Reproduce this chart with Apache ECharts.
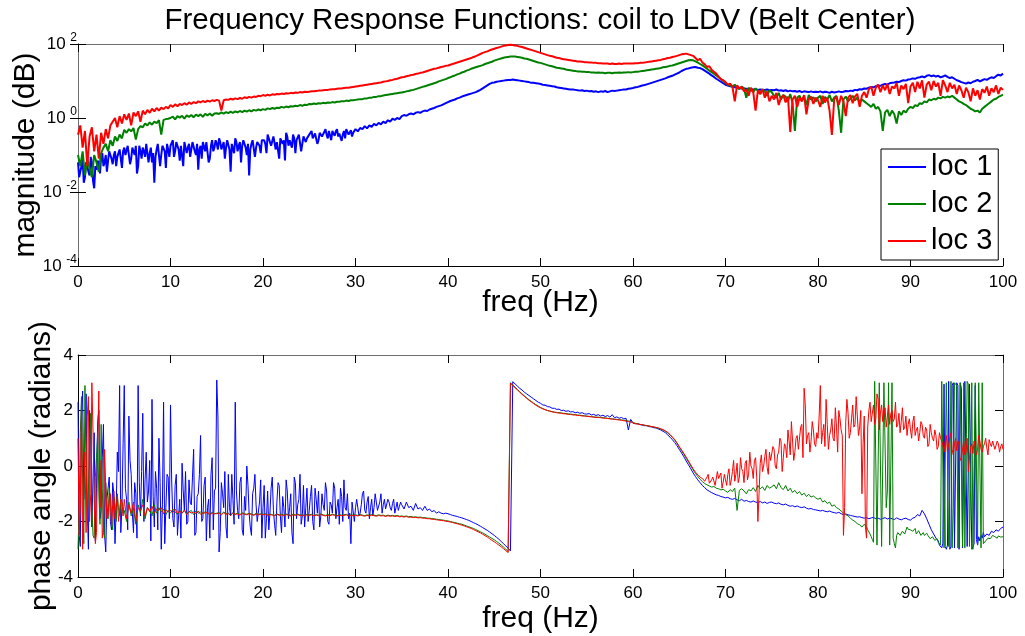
<!DOCTYPE html>
<html>
<head>
<meta charset="utf-8">
<title>Frequency Response Functions</title>
<script src="https://cdn.jsdelivr.net/npm/echarts@6/dist/echarts.min.js"></script>
<style>
  html, body { margin: 0; padding: 0; background: #fff; }
  #chart { width: 1025px; height: 636px; }
</style>
</head>
<body>
<div id="chart"></div>
<script>
// Frequency grid: 0 to 100 Hz in 0.25 Hz steps (401 samples)
const freq = [];
for (let i = 0; i <= 400; i++) freq.push(i * 0.25);

const seriesNames = ['loc 1', 'loc 2', 'loc 3'];
const seriesColors = ['#0000ff', '#008000', '#ff0000'];

// Magnitude, stored as log10 of the response (one row = 5 Hz)
const magLoc1 = [
  -1.2,-1.45,-1.1,-1.6,-1.3,-1.55,-1.2,-1.9,-1.4,-1.25,-1.05,-1.3,-1.0,-1.15,-0.95,-1.25,-0.9,-1.05,-0.85,-1.35,
  -0.8,-0.95,-0.7,-1.1,-0.85,-0.75,-1.3,-0.9,-0.8,-1.05,-0.7,-0.95,-1.2,-1.75,-0.85,-0.75,-1.0,-0.8,-1.35,-0.85,
  -0.75,-0.6,-0.9,-0.7,-1.15,-0.8,-0.65,-0.95,-0.7,-0.85,-0.6,-1.0,-1.4,-0.75,-0.65,-0.9,-0.7,-1.1,-0.6,-0.8,
  -0.7,-0.55,-0.85,-0.65,-0.8,-0.6,-1.45,-0.7,-0.55,-0.9,-0.65,-0.75,-0.6,-1.0,-1.55,-0.7,-0.55,-0.8,-0.6,-0.95,
  -0.55,-0.7,-0.45,-0.6,-0.8,-0.5,-0.65,-1.1,-0.5,-0.6,-0.4,-0.75,-0.55,-0.45,-0.95,-0.6,-0.5,-0.7,-0.45,-0.55,
  -0.45,-0.35,-0.5,-0.4,-0.6,-0.38,-0.45,-0.3,-0.55,-0.4,-0.35,-0.48,-0.3,-0.42,-0.62,-0.35,-0.3,-0.45,-0.33,-0.4,
  -0.3,-0.36,-0.27,-0.3,-0.22,-0.28,-0.2,-0.24,-0.16,-0.2,-0.13,-0.17,-0.1,-0.14,-0.06,-0.1,-0.02,-0.05,0.0,-0.03,
  0.05,0.08,0.06,0.1,0.12,0.1,0.14,0.16,0.14,0.18,0.2,0.19,0.23,0.25,0.27,0.3,0.32,0.34,0.37,0.4,
  0.43,0.46,0.48,0.5,0.53,0.55,0.58,0.6,0.62,0.64,0.66,0.68,0.7,0.73,0.76,0.8,0.84,0.88,0.92,0.95,
  0.96,0.98,0.99,1.0,1.01,1.02,1.03,1.03,1.04,1.03,1.02,1.01,1.0,0.99,0.98,0.97,0.95,0.95,0.94,0.93,
  0.92,0.9,0.89,0.88,0.87,0.86,0.85,0.83,0.82,0.81,0.8,0.79,0.78,0.77,0.77,0.76,0.75,0.74,0.75,0.73,
  0.74,0.72,0.73,0.71,0.72,0.7,0.72,0.71,0.73,0.7,0.72,0.74,0.73,0.74,0.75,0.76,0.77,0.77,0.79,0.8,
  0.81,0.83,0.84,0.86,0.88,0.89,0.91,0.93,0.95,0.97,0.99,1.01,1.03,1.05,1.07,1.1,1.12,1.14,1.17,1.2,
  1.23,1.27,1.3,1.33,1.34,1.36,1.37,1.38,1.36,1.35,1.32,1.28,1.24,1.2,1.15,1.11,1.06,1.02,0.98,0.94,
  0.9,0.88,0.86,0.85,0.83,0.82,0.81,0.8,0.8,0.79,0.78,0.78,0.77,0.78,0.76,0.77,0.76,0.76,0.77,0.75,
  0.76,0.75,0.77,0.74,0.75,0.73,0.75,0.72,0.74,0.72,0.73,0.71,0.73,0.7,0.72,0.71,0.7,0.72,0.7,0.71,
  0.7,0.72,0.69,0.71,0.7,0.68,0.71,0.69,0.7,0.72,0.7,0.71,0.73,0.72,0.74,0.73,0.76,0.75,0.78,0.77,
  0.8,0.79,0.82,0.84,0.83,0.86,0.88,0.87,0.9,0.92,0.9,0.94,0.95,0.96,0.98,0.97,1.0,1.02,1.01,1.04,
  1.05,1.07,1.06,1.09,1.1,1.12,1.1,1.14,1.16,1.13,1.15,1.12,1.14,1.1,1.12,1.15,1.11,1.08,1.1,1.06,
  1.02,1.0,0.97,0.95,0.93,0.96,0.94,0.98,1.0,1.03,0.99,1.02,1.05,1.03,1.07,1.1,1.08,1.13,1.17,1.15,
  1.2
];
// Extra loc 1 magnitude readings between grid points, 0.125 to 29.875 Hz
const magLoc1MidStart = 0.125;
const magLoc1Mid = [
  -1.6,-1.3,-1.75,-1.2,-1.45,-1.05,-1.7,-1.3,-1.15,-1.5,-0.95,-1.2,-1.45,-0.9,-1.1,-1.0,-1.3,-0.95,-1.1,-0.9,
  -1.0,-0.75,-1.25,-0.8,-1.0,-1.5,-0.75,-1.1,-0.9,-0.7,-1.2,-0.8,-0.95,-1.05,-0.7,-1.3,-0.75,-0.9,-0.7,-1.05,
  -0.7,-1.05,-0.65,-0.85,-0.75,-1.3,-0.7,-0.8,-1.05,-0.65,-0.9,-0.7,-0.85,-1.1,-0.7,-0.65,-1.2,-0.75,-0.9,-0.6,
  -0.85,-0.65,-0.75,-1.1,-0.6,-0.85,-0.7,-0.95,-0.65,-0.75,-1.2,-0.6,-0.8,-0.7,-0.85,-0.6,-1.05,-0.65,-0.75,-0.6,
  -0.6,-0.95,-0.55,-0.75,-0.5,-0.85,-0.6,-0.55,-0.7,-1.15,-0.5,-0.6,-0.8,-0.55,-0.6,-0.45,-0.9,-0.5,-0.65,-0.5,
  -0.4,-0.55,-0.42,-0.7,-0.4,-0.5,-0.38,-0.45,-0.35,-0.6,-0.42,-0.36,-0.5,-0.38,-0.45,-0.55,-0.35,-0.4,-0.5,-0.35
];

const magLoc2 = [
  -1.0,-1.3,-0.9,-1.55,-1.1,-1.35,-1.6,-1.0,-1.2,-1.45,-0.95,-0.8,-0.7,-0.9,-0.6,-0.75,-0.5,-0.62,-0.45,-0.55,
  -0.32,-0.4,-0.3,-0.36,-0.27,-0.58,-0.3,-0.22,-0.25,-0.15,-0.2,-0.12,-0.18,-0.1,-0.14,-0.06,-0.45,-0.05,-0.03,-0.02,
  0.0,0.04,-0.04,0.05,0.01,0.06,-0.02,0.07,0.03,0.08,0.02,0.09,0.05,0.1,0.03,0.11,0.07,0.12,0.06,0.12,
  0.13,0.11,0.15,0.12,0.16,0.13,0.17,0.14,0.18,0.15,0.19,0.16,0.2,0.17,0.21,0.18,0.22,0.2,0.23,0.21,
  0.24,0.22,0.26,0.24,0.27,0.25,0.28,0.27,0.3,0.28,0.31,0.29,0.32,0.31,0.33,0.32,0.35,0.33,0.36,0.35,
  0.38,0.37,0.39,0.38,0.4,0.39,0.41,0.4,0.42,0.41,0.43,0.42,0.44,0.44,0.45,0.45,0.47,0.46,0.48,0.48,
  0.49,0.5,0.51,0.51,0.53,0.53,0.55,0.55,0.57,0.57,0.59,0.59,0.61,0.62,0.63,0.64,0.65,0.66,0.67,0.68,
  0.69,0.7,0.72,0.73,0.75,0.76,0.78,0.8,0.82,0.84,0.86,0.88,0.9,0.92,0.94,0.96,0.99,1.01,1.03,1.05,
  1.08,1.1,1.13,1.15,1.18,1.2,1.23,1.25,1.28,1.3,1.33,1.35,1.37,1.39,1.41,1.43,1.46,1.48,1.5,1.52,
  1.55,1.57,1.59,1.61,1.63,1.64,1.65,1.66,1.66,1.66,1.65,1.64,1.63,1.61,1.6,1.58,1.56,1.54,1.52,1.5,
  1.49,1.47,1.45,1.43,1.41,1.4,1.38,1.36,1.35,1.34,1.33,1.31,1.3,1.29,1.28,1.27,1.26,1.26,1.25,1.25,
  1.24,1.24,1.23,1.23,1.22,1.23,1.22,1.22,1.21,1.22,1.22,1.21,1.22,1.22,1.23,1.22,1.23,1.23,1.24,1.23,
  1.24,1.25,1.25,1.26,1.27,1.28,1.29,1.3,1.31,1.32,1.33,1.34,1.35,1.37,1.38,1.39,1.41,1.42,1.44,1.46,
  1.48,1.5,1.52,1.54,1.56,1.57,1.56,1.53,1.5,1.46,1.42,1.38,1.33,1.28,1.24,1.2,1.15,1.1,1.05,1.0,
  0.95,0.9,0.88,0.84,0.9,0.82,0.78,0.85,0.8,0.55,0.82,0.76,0.7,0.8,0.74,0.65,0.78,0.72,0.6,0.75,
  0.7,0.6,0.55,0.68,0.5,0.62,0.58,0.45,0.65,0.4,-0.35,0.55,0.6,0.48,0.58,0.35,0.62,0.5,0.56,0.45,
  0.55,0.6,0.38,0.57,0.5,0.62,0.45,0.55,0.6,0.2,-0.4,0.5,0.58,0.45,0.52,0.6,0.48,0.55,0.42,0.5,
  0.45,0.4,0.35,0.3,0.38,0.25,0.3,0.18,-0.35,0.15,0.22,0.05,0.2,0.1,-0.15,0.18,0.08,0.2,0.15,0.25,
  0.3,0.27,0.35,0.32,0.4,0.38,0.45,0.42,0.5,0.48,0.52,0.5,0.55,0.53,0.57,0.55,0.58,0.56,0.6,0.55,
  0.5,0.45,0.42,0.38,0.35,0.3,0.25,0.22,0.18,0.2,0.15,0.25,0.3,0.35,0.4,0.45,0.5,0.52,0.57,0.6,
  0.63
];

const magLoc3 = [
  -0.45,-0.2,-0.8,-0.35,-1.3,-0.5,-0.25,-0.9,-0.45,-1.1,-0.4,-0.7,-0.3,-0.55,-0.2,-0.1,0.0,-0.25,0.05,-0.15,
  0.1,-0.05,0.12,-0.2,0.15,0.05,0.18,-0.1,0.2,0.1,0.22,0.14,0.25,0.18,0.27,0.2,0.28,0.24,0.3,0.26,
  0.35,0.3,0.37,0.32,0.38,0.35,0.4,0.36,0.42,0.38,0.43,0.4,0.45,0.42,0.46,0.43,0.47,0.44,0.48,0.46,
  0.49,0.47,0.2,0.48,0.5,0.49,0.52,0.5,0.53,0.51,0.54,0.52,0.56,0.54,0.57,0.55,0.58,0.57,0.6,0.59,
  0.62,0.6,0.63,0.61,0.64,0.63,0.65,0.64,0.66,0.65,0.67,0.66,0.68,0.67,0.69,0.68,0.7,0.69,0.71,0.7,
  0.71,0.72,0.72,0.73,0.74,0.74,0.75,0.76,0.76,0.77,0.78,0.78,0.79,0.8,0.8,0.81,0.82,0.82,0.83,0.84,
  0.85,0.86,0.87,0.88,0.89,0.9,0.91,0.92,0.93,0.94,0.95,0.96,0.98,0.99,1.0,1.02,1.03,1.05,1.06,1.08,
  1.1,1.11,1.13,1.14,1.16,1.17,1.19,1.2,1.22,1.23,1.25,1.27,1.29,1.31,1.33,1.34,1.36,1.38,1.39,1.41,
  1.42,1.44,1.46,1.48,1.5,1.52,1.54,1.56,1.58,1.6,1.62,1.65,1.67,1.7,1.73,1.76,1.78,1.8,1.83,1.85,
  1.87,1.89,1.91,1.93,1.95,1.96,1.97,1.98,1.97,1.96,1.95,1.93,1.92,1.9,1.88,1.86,1.84,1.82,1.8,1.78,
  1.76,1.74,1.72,1.7,1.68,1.67,1.65,1.63,1.62,1.6,1.59,1.58,1.57,1.56,1.55,1.54,1.53,1.53,1.52,1.51,
  1.51,1.5,1.5,1.49,1.49,1.48,1.48,1.47,1.47,1.47,1.46,1.47,1.46,1.46,1.47,1.46,1.47,1.47,1.47,1.47,
  1.47,1.48,1.48,1.49,1.49,1.5,1.51,1.52,1.53,1.54,1.55,1.56,1.57,1.59,1.6,1.62,1.63,1.65,1.66,1.68,
  1.7,1.72,1.73,1.74,1.72,1.7,1.68,1.62,1.56,1.6,1.5,1.45,1.38,1.4,1.3,1.25,1.2,1.12,1.05,1.02,
  0.97,0.9,0.93,0.85,0.45,0.88,0.8,0.84,0.72,0.78,0.6,0.82,0.7,0.2,0.75,0.65,0.78,0.55,0.72,0.45,
  0.6,0.5,0.68,0.35,0.55,0.62,0.42,0.58,-0.38,0.5,0.6,0.3,0.55,0.45,0.62,0.1,0.5,0.58,0.38,0.55,
  0.48,0.3,0.6,0.42,0.55,0.2,-0.46,0.5,0.58,0.35,0.6,0.45,0.05,0.55,0.62,0.4,0.58,0.65,0.3,0.6,
  0.7,0.55,0.78,0.85,0.6,0.82,0.9,0.7,0.88,0.75,0.92,0.65,0.85,0.8,0.95,0.6,0.88,0.78,0.92,0.4,
  0.85,0.95,0.7,0.98,0.8,1.02,0.55,0.9,0.98,0.75,1.0,0.85,0.95,0.6,1.02,0.88,0.7,0.95,0.8,0.9,
  0.65,0.88,0.75,0.55,0.82,0.7,0.45,0.8,0.6,0.75,0.5,0.78,0.68,0.85,0.6,0.8,0.7,0.88,0.65,0.82,
  0.76
];

// Phase angle in radians (one row = 5 Hz)
const phaseLoc1 = [
  2.3,-2.9,2.7,0.5,-1.5,2.0,-2.2,1.2,-0.8,2.0,-1.6,1.5,-3.1,-0.8,-2.0,-0.6,-2.8,0.5,2.9,-1.5,
  2.9,-1.2,1.8,-0.3,-2.4,-1.0,2.9,-1.8,1.9,-0.5,-1.3,0.2,2.4,-2.2,-0.8,1.0,-3.0,2.3,-1.5,-0.4,
  2.2,-1.9,-0.7,-2.5,-1.2,0.1,-1.6,-2.1,-0.5,-1.4,0.6,-2.4,-1.0,1.1,-1.9,-0.4,-1.5,-2.6,0.3,-0.9,
  3.1,-3.1,-0.6,-1.5,-2.2,-0.3,-1.8,-1.2,2.3,-1.6,-0.6,-2.3,-1.1,0.0,-1.7,-2.5,-0.8,-1.4,-2.0,-0.5,
  -1.5,-2.6,-0.9,-1.7,-0.4,-2.1,-1.3,-0.7,-2.4,-1.5,-0.5,-1.9,-1.0,-2.8,-0.6,-1.4,-0.3,-1.8,-2.2,-0.8,
  -1.6,-0.7,-2.3,-1.2,-0.9,-1.8,-1.4,-0.6,-2.0,-1.3,-1.7,-0.8,-1.5,-2.1,-1.1,-0.5,-1.6,-1.9,-2.8,-1.3,
  -1.5,-1.2,-1.7,-1.0,-1.6,-1.3,-1.9,-1.2,-1.5,-1.3,-1.6,-1.0,-1.4,-1.55,-1.2,-1.5,-1.35,-1.7,-1.3,-1.45,
  -1.4,-1.55,-1.3,-1.5,-1.45,-1.6,-1.35,-1.55,-1.5,-1.6,-1.45,-1.6,-1.55,-1.65,-1.6,-1.7,-1.65,-1.7,-1.72,-1.7,
  -1.72,-1.75,-1.78,-1.8,-1.82,-1.85,-1.87,-1.9,-1.93,-1.96,-2.0,-2.04,-2.08,-2.12,-2.17,-2.22,-2.27,-2.32,-2.38,-2.44,
  -2.5,-2.57,-2.64,-2.72,-2.8,-2.88,-2.96,-3.06,3.04,2.96,2.88,2.8,2.74,2.66,2.6,2.54,2.48,2.42,2.36,2.3,
  2.26,2.2,2.19,2.14,2.13,2.08,2.08,2.04,2.05,2.0,2.01,1.97,1.99,1.95,1.96,1.92,1.94,1.9,1.92,1.88,
  1.87,1.89,1.84,1.86,1.82,1.85,1.8,1.83,1.78,1.82,1.76,1.85,1.74,1.77,1.72,1.75,1.7,1.72,1.3,1.68,
  1.55,1.52,1.53,1.49,1.48,1.45,1.46,1.42,1.41,1.38,1.37,1.33,1.3,1.25,1.2,1.12,1.04,0.95,0.85,0.73,
  0.6,0.47,0.33,0.18,0.04,-0.1,-0.25,-0.38,-0.5,-0.6,-0.7,-0.78,-0.86,-0.91,-0.96,-1.0,-1.04,-1.06,-1.1,-1.12,
  -1.15,-1.13,-1.18,-1.2,-1.17,-1.22,-1.25,-1.2,-1.27,-1.24,-1.28,-1.3,-1.26,-1.3,-1.32,-1.28,-1.33,-1.3,-1.35,-1.31,
  -1.3,-1.34,-1.36,-1.33,-1.38,-1.4,-1.37,-1.42,-1.45,-1.43,-1.47,-1.44,-1.48,-1.5,-1.47,-1.52,-1.55,-1.53,-1.57,-1.58,
  -1.6,-1.62,-1.6,-1.63,-1.65,-1.62,-1.66,-1.68,-1.7,-1.67,-1.72,-1.75,-1.73,-1.76,-1.78,-1.8,-1.82,-1.84,-1.83,-1.86,
  -1.88,-1.86,-1.9,-1.87,-1.85,-1.9,-1.88,-1.92,-1.89,-1.86,-1.91,-1.88,-1.9,-1.93,-1.87,-1.91,-1.94,-1.9,-1.88,-1.93,
  -1.95,-1.88,-1.85,-1.75,-1.8,-1.6,-1.72,-1.9,-2.1,-2.3,-2.45,-2.6,-2.7,-2.82,-2.78,-2.9,-2.85,-3.0,2.9,-2.95,
  3.0,-3.0,2.8,-2.9,3.05,-2.95,2.95,-3.0,2.9,-2.85,-2.7,-2.6,-2.55,-2.45,-2.5,-2.35,-2.4,-2.3,-2.35,-2.25,
  -2.2
];
// Extra loc 1 phase readings between grid points
const phaseLoc1MidStart = 0.125;   // 0.125 .. 34.875 Hz
const phaseLoc1Mid = [
  -2.5,1.8,-1.2,2.6,-3.0,0.9,-0.4,-2.7,1.6,-1.9,0.3,-2.5,-1.2,-0.4,-2.3,-1.0,-1.6,-0.2,-2.4,0.8,
  -0.8,-2.3,0.2,-1.7,-0.6,-2.6,-0.6,-0.2,-2.0,0.5,-0.9,-2.7,-1.1,-0.2,-2.3,-0.6,-1.4,-2.8,-0.3,-1.9,
  -0.5,-2.2,-0.3,-1.8,-2.6,-0.9,-0.2,-2.0,-1.3,-0.4,-2.5,-1.1,-0.3,-2.0,-0.7,-2.7,-1.2,-0.3,-2.3,-0.8,
  1.8,-2.4,-1.0,-0.2,-2.6,-1.5,-0.3,-2.1,-0.9,-1.9,-0.4,-2.5,-1.6,-0.7,-2.2,-1.0,-0.3,-2.0,-1.3,-2.6,
  -0.7,-1.9,-2.3,-0.8,-1.6,-2.5,-0.6,-1.8,-1.1,-2.2,-0.9,-1.5,-2.4,-0.4,-1.9,-1.2,-2.1,-0.7,-1.5,-2.0,
  -1.1,-2.0,-0.8,-1.7,-2.2,-1.0,-1.6,-0.9,-2.1,-1.4,-0.6,-1.9,-1.2,-0.8,-2.0,-1.5,-1.0,-1.7,-1.3,-2.0,
  -1.2,-1.8,-1.4,-0.9,-1.7,-1.1,-1.5,-1.8,-1.0,-1.6,-1.3,-1.7,-1.2,-1.5,-1.3,-1.6,-1.2,-1.5,-1.6,-1.3
];
const phaseLoc1Mid2Start = 93.125; // 93.125 .. 97.875 Hz
const phaseLoc1Mid2 = [
  -2.85,-2.95,2.95,-3.0,3.05,-2.9,3.0,-2.95,2.9,3.0,-2.95,3.05,-2.9,2.95,-3.0,-2.8,-2.65,-2.55,-2.5,-2.4
];

const phaseLoc2 = [
  -3.0,1.2,-0.5,2.9,-2.0,0.8,-1.5,-2.6,0.3,-1.0,1.5,-2.4,-0.6,-1.9,-1.2,-2.3,-1.4,-1.0,-1.8,-1.3,
  -1.6,-2.0,-1.3,-1.8,-1.5,-2.1,-1.4,-1.7,-1.2,-1.9,-1.5,-1.6,-1.8,-1.4,-1.7,-1.5,-1.65,-1.55,-1.75,-1.6,
  -1.7,-1.55,-1.65,-1.75,-1.6,-1.7,-1.58,-1.72,-1.65,-1.6,-1.75,-1.62,-1.7,-1.66,-1.72,-1.64,-1.7,-1.75,-1.66,-1.72,
  -1.7,-1.68,-1.74,-1.66,-1.72,-1.7,-1.76,-1.68,-1.73,-1.7,-1.75,-1.69,-1.72,-1.74,-1.7,-1.73,-1.76,-1.71,-1.74,-1.72,
  -1.74,-1.72,-1.76,-1.73,-1.75,-1.78,-1.72,-1.76,-1.74,-1.77,-1.73,-1.75,-1.78,-1.74,-1.76,-1.73,-1.77,-1.75,-1.78,-1.74,
  -1.76,-1.74,-1.78,-1.75,-1.77,-1.73,-1.76,-1.78,-1.75,-1.77,-1.74,-1.76,-1.79,-1.75,-1.77,-1.76,-1.74,-1.78,-1.76,-1.77,
  -1.76,-1.78,-1.75,-1.77,-1.79,-1.76,-1.78,-1.75,-1.77,-1.79,-1.76,-1.78,-1.77,-1.8,-1.77,-1.79,-1.78,-1.8,-1.78,-1.81,
  -1.8,-1.82,-1.8,-1.83,-1.82,-1.84,-1.83,-1.85,-1.84,-1.86,-1.86,-1.88,-1.88,-1.9,-1.9,-1.92,-1.93,-1.94,-1.95,-1.97,
  -1.98,-2.0,-2.02,-2.04,-2.06,-2.08,-2.1,-2.13,-2.16,-2.19,-2.22,-2.25,-2.29,-2.33,-2.37,-2.41,-2.46,-2.51,-2.56,-2.61,
  -2.66,-2.72,-2.78,-2.85,-2.92,-3.0,-3.08,3.0,2.92,2.84,2.76,2.68,2.6,2.53,2.46,2.39,2.33,2.27,2.21,2.16,
  2.11,2.07,2.03,2.0,1.98,1.96,1.94,1.93,1.92,1.91,1.9,1.89,1.88,1.87,1.86,1.85,1.84,1.83,1.82,1.81,
  1.8,1.79,1.78,1.77,1.76,1.76,1.75,1.74,1.73,1.72,1.71,1.7,1.69,1.68,1.67,1.66,1.65,1.64,1.62,1.61,
  1.56,1.54,1.52,1.5,1.49,1.47,1.45,1.44,1.42,1.4,1.38,1.36,1.33,1.3,1.25,1.19,1.12,1.03,0.94,0.82,
  0.68,0.55,0.42,0.28,0.14,0.0,-0.14,-0.27,-0.38,-0.48,-0.56,-0.63,-0.68,-0.72,-0.76,-0.74,-0.8,-0.82,-0.86,-0.84,
  -0.9,-0.95,-0.85,-0.92,-0.8,-1.6,-0.88,-0.82,-0.9,-1.0,-0.85,-0.9,-0.78,-0.92,-0.7,-0.82,-0.75,-0.88,-0.7,-0.8,
  -0.75,-0.68,-0.82,-0.6,-0.78,-0.85,-0.7,-0.9,-0.8,-0.95,-0.88,-1.0,-0.92,-1.05,-0.98,-1.1,-1.02,-1.12,-1.08,-1.15,
  -1.2,-1.15,-1.3,-1.25,-1.35,-1.3,-1.45,-1.4,-1.5,-1.55,-1.62,-1.7,-1.75,-1.8,-1.88,-1.95,-2.0,-2.08,-2.12,-2.2,
  -2.1,-2.2,-2.35,-2.55,-2.75,3.0,-2.9,2.95,-2.95,3.05,-0.9,-2.85,3.0,-2.8,-2.5,-2.35,-2.45,-2.3,-2.4,-2.28,
  -2.3,-2.35,-2.25,-2.4,-2.38,-2.45,-2.5,-2.42,-2.55,-2.6,-2.58,-2.7,-2.75,-2.85,3.0,-2.9,3.05,-0.5,-2.95,3.0,
  2.9,-2.9,3.05,3.0,-2.95,2.95,-0.8,-3.0,3.0,-2.85,3.05,3.0,-2.75,-2.65,-2.6,-2.55,-2.5,-2.58,-2.52,-2.56,
  -2.55
];
const phaseLoc2MidStart = 0.125;   // 0.125 .. 4.875 Hz
const phaseLoc2Mid = [
  -1.5,2.5,-2.8,0.6,-0.9,1.9,-2.5,-0.4,1.2,-2.1,-0.8,-2.6,-1.3,-0.8,-1.9,-1.1,-2.0,-1.5,-1.2,-1.7
];
const phaseLoc2Mid2Start = 85.125; // 85.125 .. 99.875 Hz
const phaseLoc2Mid2 = [
  -2.15,-2.3,-2.45,-2.65,3.05,-2.85,3.0,-2.9,3.0,-1.5,3.0,-2.9,-2.6,-2.95,-2.4,-2.5,-2.35,-2.45,-2.2,-2.35,
  -2.35,-2.28,-2.45,-2.33,-2.5,-2.4,-2.55,-2.5,-2.62,-2.55,-2.68,-2.62,-2.8,3.05,-2.95,3.0,-2.9,3.05,-1.5,3.0,
  -2.95,3.0,-2.9,-2.95,3.05,-2.9,3.0,-2.95,3.05,3.0,-2.95,-2.8,-2.7,-2.6,-2.62,-2.5,-2.55,-2.6,-2.48,-2.58
];

const phaseLoc3 = [
  1.0,-1.5,-3.0,0.5,1.8,-2.0,3.0,-1.2,-2.4,2.7,0.2,-2.2,-0.8,-1.8,-1.0,-1.4,-1.9,-1.1,-1.6,-1.3,
  -1.2,-1.9,-1.4,-1.7,-1.3,-2.0,-1.5,-1.6,-1.4,-1.8,-1.5,-1.65,-1.45,-1.7,-1.55,-1.6,-1.5,-1.72,-1.58,-1.65,
  -1.6,-1.68,-1.55,-1.72,-1.62,-1.7,-1.6,-1.75,-1.64,-1.7,-1.66,-1.72,-1.62,-1.74,-1.68,-1.7,-1.66,-1.76,-1.7,-1.72,
  -1.72,-1.7,-1.76,-1.68,-1.74,-1.72,-1.78,-1.7,-1.75,-1.72,-1.77,-1.71,-1.74,-1.76,-1.72,-1.75,-1.78,-1.73,-1.76,-1.74,
  -1.76,-1.74,-1.78,-1.75,-1.77,-1.8,-1.74,-1.78,-1.76,-1.79,-1.75,-1.77,-1.8,-1.76,-1.78,-1.75,-1.79,-1.77,-1.8,-1.76,
  -1.78,-1.76,-1.8,-1.77,-1.79,-1.75,-1.78,-1.8,-1.77,-1.79,-1.76,-1.78,-1.81,-1.77,-1.79,-1.78,-1.76,-1.8,-1.78,-1.79,
  -1.78,-1.8,-1.77,-1.79,-1.81,-1.78,-1.8,-1.77,-1.79,-1.81,-1.78,-1.8,-1.79,-1.82,-1.79,-1.81,-1.8,-1.82,-1.8,-1.83,
  -1.82,-1.84,-1.82,-1.85,-1.84,-1.86,-1.85,-1.87,-1.86,-1.88,-1.88,-1.9,-1.9,-1.92,-1.92,-1.94,-1.95,-1.96,-1.97,-1.99,
  -2.0,-2.02,-2.04,-2.06,-2.08,-2.11,-2.13,-2.16,-2.19,-2.22,-2.25,-2.29,-2.33,-2.37,-2.41,-2.46,-2.51,-2.56,-2.62,-2.68,
  -2.73,-2.79,-2.85,-2.91,-2.98,-3.05,-3.12,2.98,2.9,2.82,2.74,2.66,2.58,2.51,2.44,2.37,2.31,2.25,2.19,2.14,
  2.1,2.06,2.03,2.0,1.98,1.95,1.94,1.92,1.91,1.9,1.88,1.88,1.86,1.86,1.84,1.84,1.82,1.82,1.8,1.8,
  1.79,1.78,1.77,1.76,1.75,1.75,1.74,1.73,1.72,1.71,1.7,1.69,1.68,1.67,1.66,1.65,1.63,1.62,1.6,1.59,
  1.55,1.53,1.51,1.5,1.48,1.47,1.45,1.44,1.42,1.41,1.39,1.37,1.34,1.31,1.27,1.21,1.14,1.05,0.96,0.84,
  0.7,0.58,0.45,0.32,0.18,0.04,-0.1,-0.22,-0.32,-0.4,-0.45,-0.55,-0.4,-0.62,-0.5,-0.35,-0.68,-0.45,-0.25,-0.58,
  -0.5,-0.3,-0.7,-0.2,-0.55,0.1,-0.4,-0.1,-0.6,0.2,-0.3,0.0,-0.45,0.3,-2.0,0.1,-0.2,0.35,-0.05,0.5,
  0.2,0.6,-0.1,0.5,0.9,0.3,0.7,1.3,0.4,0.9,0.5,1.1,0.6,1.5,2.8,0.8,1.2,0.9,1.3,0.7,
  1.0,2.9,1.2,0.7,1.5,1.1,1.7,0.9,1.4,2.0,1.3,-2.5,1.6,1.9,1.2,2.2,1.5,1.8,1.4,-1.0,
  1.8,-2.6,2.0,1.6,2.2,1.7,2.4,1.9,1.6,2.1,1.8,1.5,2.0,1.7,1.4,1.9,1.6,1.3,1.8,1.5,
  1.3,1.6,1.1,1.4,1.2,1.5,1.0,1.3,0.8,1.2,0.9,1.1,0.7,1.0,0.75,0.9,0.5,0.85,0.6,0.8,
  0.55,0.75,0.3,0.9,0.5,-0.2,0.7,0.45,0.85,0.6,0.9,0.5,0.8,0.65,0.95,0.7,0.85,0.55,0.8,0.7,
  0.6
];
const phaseLoc3MidStart = 0.125;   // 0.125 .. 4.875 Hz
const phaseLoc3Mid = [
  -2.5,2.2,-0.6,-2.4,2.5,-1.0,1.2,-2.8,0.8,-1.5,-2.6,0.6,-1.9,-1.2,-2.2,-0.9,-1.5,-2.0,-1.2,-1.8
];
const phaseLoc3Mid2Start = 68.125; // 68.125 .. 99.875 Hz
const phaseLoc3Mid2 = [
  -0.3,-0.6,-0.4,-0.7,-0.2,-0.5,-0.8,-0.3,
  -0.7,-0.1,-0.5,0.2,-0.3,-0.6,0.3,-0.2,0.1,-0.5,0.5,-0.1,0.2,-0.4,-1.0,0.4,0.0,0.6,-0.3,0.2,
  0.7,0.0,0.4,1.0,-0.2,0.8,0.3,0.9,1.6,0.2,1.0,0.6,1.4,0.3,2.2,1.1,0.5,1.6,0.8,1.2,
  1.8,0.8,1.5,2.4,0.6,1.3,1.0,2.1,0.5,1.7,1.1,-1.5,2.4,1.0,1.7,1.4,2.5,1.1,2.0,0.8,
  -2.2,1.4,2.3,1.9,1.5,2.6,1.3,2.2,1.8,1.4,2.2,1.9,1.6,2.3,1.5,1.2,2.1,1.4,1.1,1.7,
  1.0,1.8,1.3,0.9,1.6,1.1,1.4,0.7,1.5,1.0,1.3,0.6,1.2,0.9,0.5,1.1,0.8,1.2,0.4,1.0,
  0.9,0.2,0.6,0.4,1.0,0.3,0.8,0.9,0.4,1.1,0.6,0.7,1.0,0.4,0.8,0.9,0.6,0.9,0.5,0.8
];

// Pair grid readings with their frequencies and slot in the in-between readings
function buildPoints(values, extras, toY) {
  const pts = freq.map((f, i) => [f, values[i]]);
  extras.forEach(([start, list]) => {
    list.forEach((v, j) => pts.push([start + 0.25 * j, v]));
  });
  pts.sort((a, b) => a[0] - b[0]);
  return pts.map(p => [p[0], toY(p[1])]);
}

const fromLog = v => Math.pow(10, v);
const asIs = v => v;

const magPoints = [
  buildPoints(magLoc1, [[magLoc1MidStart, magLoc1Mid]], fromLog),
  buildPoints(magLoc2, [], fromLog),
  buildPoints(magLoc3, [], fromLog)
];
const phasePoints = [
  buildPoints(phaseLoc1, [[phaseLoc1MidStart, phaseLoc1Mid], [phaseLoc1Mid2Start, phaseLoc1Mid2]], asIs),
  buildPoints(phaseLoc2, [[phaseLoc2MidStart, phaseLoc2Mid], [phaseLoc2Mid2Start, phaseLoc2Mid2]], asIs),
  buildPoints(phaseLoc3, [[phaseLoc3MidStart, phaseLoc3Mid], [phaseLoc3Mid2Start, phaseLoc3Mid2]], asIs)
];

const FONT = '"Liberation Sans", Arial, Helvetica, sans-serif';
const INK = '#000';
const FRAME = '#6e6e6e';

const plotLeft = 78, plotWidth = 925, plotHeight = 222;
const topPlotTop = 44, bottomPlotTop = 355;

function tickStyle() {
  return { show: true, inside: true, length: 8, lineStyle: { color: INK, width: 1 } };
}

function bottomXAxis(gridIndex, nameGap) {
  return {
    gridIndex, type: 'value', position: 'bottom', min: 0, max: 100, interval: 10,
    axisLine: { show: true, onZero: false, lineStyle: { color: INK, width: 1 } },
    axisTick: tickStyle(),
    axisLabel: { fontSize: 17, color: INK, fontFamily: FONT, margin: 8 },
    splitLine: { show: false },
    name: 'freq (Hz)', nameLocation: 'middle', nameGap, nameMoveOverlap: false,
    nameTextStyle: { fontSize: 30, color: INK, fontFamily: FONT }
  };
}

function topXAxis(gridIndex) {
  return {
    gridIndex, type: 'value', position: 'top', min: 0, max: 100, interval: 10,
    axisLine: { show: true, onZero: false, lineStyle: { color: FRAME, width: 1 } },
    axisTick: tickStyle(),
    axisLabel: { show: false },
    splitLine: { show: false }
  };
}

const supRich = {
  b: { fontSize: 17, lineHeight: 17, padding: [4, 0, 4, 0], color: INK, fontFamily: FONT },
  e: { fontSize: 12, lineHeight: 12, padding: [0, 0, 13, 0], color: INK, fontFamily: FONT }
};

const magAxisBase = {
  gridIndex: 0, type: 'log', logBase: 10, min: 1e-4, max: 1e2, interval: 2, splitNumber: 3,
  splitLine: { show: false }, minorTick: { show: false }
};

const option = {
  backgroundColor: '#fff',
  animation: false,
  title: {
    text: 'Frequency Response Functions: coil to LDV (Belt Center)',
    left: 535, textAlign: 'center', top: 1,
    textStyle: { fontSize: 29.5, fontWeight: 'normal', color: INK, fontFamily: FONT }
  },
  legend: {
    data: seriesNames,
    orient: 'vertical', left: 881, top: 149,
    icon: 'rect', itemWidth: 38, itemHeight: 2, itemGap: 7,
    padding: [3, 6, 4, 7],
    borderColor: INK, borderWidth: 1, backgroundColor: '#fff',
    selectedMode: false,
    textStyle: { fontSize: 29, lineHeight: 30, color: INK, fontFamily: FONT }
  },
  grid: [
    { left: plotLeft, top: topPlotTop, width: plotWidth, height: plotHeight },
    { left: plotLeft, top: bottomPlotTop, width: plotWidth, height: plotHeight }
  ],
  xAxis: [bottomXAxis(0, 22), topXAxis(0), bottomXAxis(1, 27), topXAxis(1)],
  yAxis: [
    Object.assign({}, magAxisBase, {
      position: 'left',
      axisLine: { show: true, lineStyle: { color: INK, width: 1 } },
      axisTick: tickStyle(),
      axisLabel: {
        margin: 1,
        formatter: v => '{b|10 }{e|' + Math.round(Math.log10(v)) + '}',
        rich: supRich
      },
      name: 'magnitude (dB)', nameLocation: 'middle', nameGap: 37, nameMoveOverlap: false,
      nameTextStyle: { fontSize: 30, color: INK, fontFamily: FONT }
    }),
    Object.assign({}, magAxisBase, {
      position: 'right',
      axisLine: { show: true, lineStyle: { color: FRAME, width: 1 } },
      axisTick: tickStyle(),
      axisLabel: { show: false }
    }),
    {
      gridIndex: 1, type: 'value', position: 'left', min: -4, max: 4, interval: 2,
      axisLine: { show: true, onZero: false, lineStyle: { color: INK, width: 1 } },
      axisTick: tickStyle(),
      axisLabel: { fontSize: 17, color: INK, fontFamily: FONT, margin: 5 },
      splitLine: { show: false },
      name: 'phase angle (radians)', nameLocation: 'middle', nameGap: 21, nameMoveOverlap: false,
      nameTextStyle: { fontSize: 30, color: INK, fontFamily: FONT }
    },
    {
      gridIndex: 1, type: 'value', position: 'right', min: -4, max: 4, interval: 2,
      axisLine: { show: true, onZero: false, lineStyle: { color: FRAME, width: 1 } },
      axisTick: tickStyle(),
      axisLabel: { show: false },
      splitLine: { show: false }
    }
  ],
  series: []
};

// Magnitude traces (upper axes)
magPoints.forEach((pts, k) => {
  option.series.push({
    name: seriesNames[k], type: 'line', xAxisIndex: 0, yAxisIndex: 0,
    data: pts, symbol: 'none', smooth: false,
    lineStyle: { color: seriesColors[k], width: 2 },
    itemStyle: { color: seriesColors[k] },
    z: 2 + k
  });
});

// Phase traces (lower axes)
phasePoints.forEach((pts, k) => {
  option.series.push({
    name: seriesNames[k], type: 'line', xAxisIndex: 2, yAxisIndex: 2,
    data: pts, symbol: 'none', smooth: false,
    lineStyle: { color: seriesColors[k], width: 1 },
    itemStyle: { color: seriesColors[k] },
    z: 2 + k
  });
});

const chart = echarts.init(document.getElementById('chart'), null, { renderer: 'canvas' });
chart.setOption(option);
</script>
</body>
</html>
